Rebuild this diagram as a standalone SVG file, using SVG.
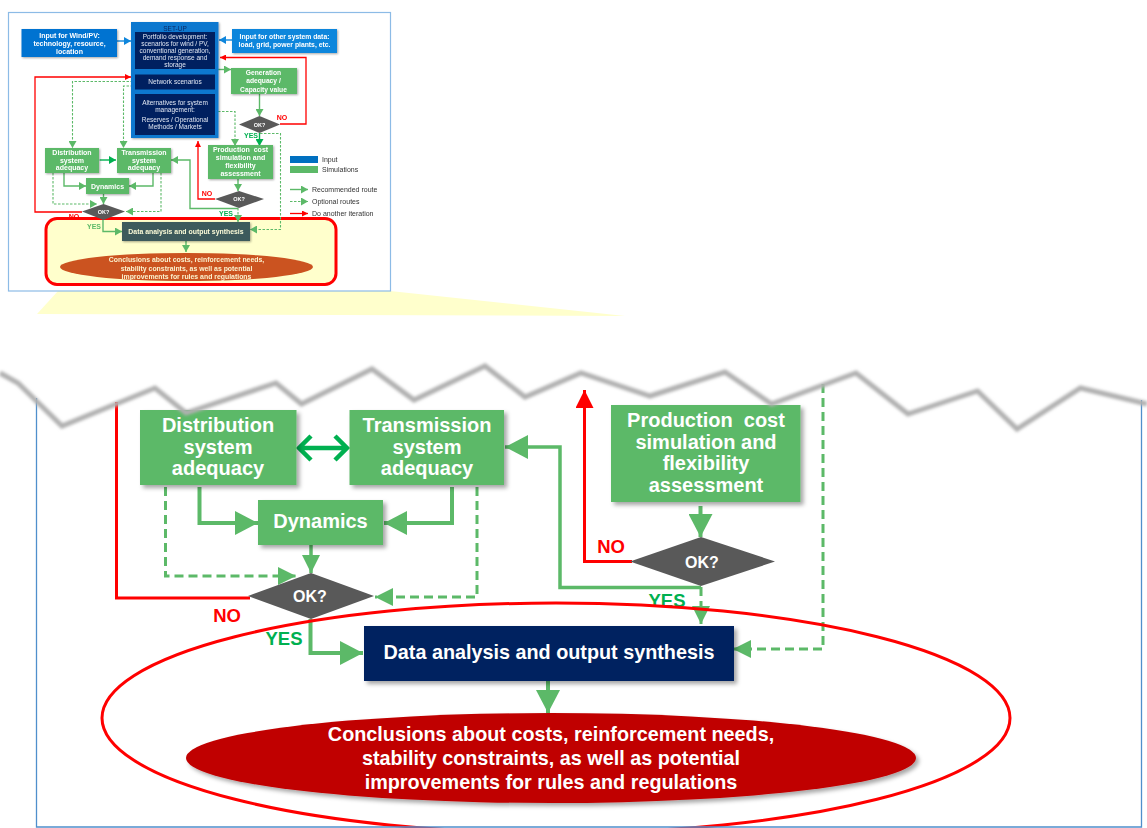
<svg xmlns="http://www.w3.org/2000/svg" width="1147" height="828" viewBox="0 0 1147 828">
<defs>
<filter id="shadow" x="-10%" y="-10%" width="125%" height="130%"><feDropShadow dx="3" dy="3" stdDeviation="2.2" flood-color="#000" flood-opacity="0.35"/></filter>
<filter id="tshadow" x="-10%" y="-10%" width="125%" height="130%"><feDropShadow dx="1" dy="1" stdDeviation="0.8" flood-color="#000" flood-opacity="0.35"/></filter>
<filter id="tearBlur" x="-2%" y="-30%" width="104%" height="160%"><feGaussianBlur stdDeviation="1.5"/></filter>
<marker id="gm" markerUnits="userSpaceOnUse" markerWidth="23" markerHeight="24" refX="23" refY="12" orient="auto"><path d="M0 0L23 12L0 24Z" fill="#5cb968"/></marker>
<marker id="gd" markerUnits="userSpaceOnUse" markerWidth="18" markerHeight="18" refX="18" refY="9" orient="auto"><path d="M0 0L18 9L0 18Z" fill="#5cb968"/></marker>
<marker id="rm" markerUnits="userSpaceOnUse" markerWidth="18" markerHeight="18" refX="18" refY="9" orient="auto"><path d="M0 0L18 9L0 18Z" fill="#ff0000"/></marker>
<marker id="gt" markerUnits="userSpaceOnUse" markerWidth="7" markerHeight="8" refX="7" refY="4" orient="auto"><path d="M0 0L7 4L0 8Z" fill="#5cb968"/></marker>
<marker id="dt" markerUnits="userSpaceOnUse" markerWidth="7" markerHeight="8" refX="7" refY="4" orient="auto"><path d="M0 0L7 4L0 8Z" fill="#00b050"/></marker>
<marker id="rt" markerUnits="userSpaceOnUse" markerWidth="6" markerHeight="6" refX="6" refY="3" orient="auto"><path d="M0 0L6 3L0 6Z" fill="#ff0000"/></marker>
<marker id="bt" markerUnits="userSpaceOnUse" markerWidth="7" markerHeight="8" refX="7" refY="4" orient="auto"><path d="M0 0L7 4L0 8Z" fill="#0f86dc"/></marker>
</defs>
<style>
text{font-family:"Liberation Sans",Arial,sans-serif;text-anchor:middle;white-space:pre}
#thumbnail{filter:blur(0.7px)}
.b{font-weight:700}
.w{fill:#fff}
.c{fill:none;stroke-linejoin:miter}
.gl{stroke:#5cb968;stroke-width:4}
.gdl{stroke:#5cb968;stroke-width:3;stroke-dasharray:9 5}
.rl{stroke:#ff0000;stroke-width:3}
.tg{stroke:#5cb968;stroke-width:1.4}
.tgd{stroke:#5cb968;stroke-width:1.1;stroke-dasharray:2.5 1.5}
.tr{stroke:#ff0000;stroke-width:1.3}
.green{fill:#5cb968}
.box{filter:url(#shadow)}
.tbox{filter:url(#tshadow)}
.mt{font-size:20px}
.tt{font-size:7px}
.st{font-size:6.5px;fill:#dfe6f2}
.lg{font-size:7px;fill:#333;text-anchor:start}
.lab{font-size:18.5px}
</style>

<polygon id="zoom-wedge" points="58,291 390,291 625,316 37,314" fill="#ffffcc"/>

<g id="thumbnail">
<rect id="t-frame" x="8.5" y="12.5" width="382" height="278.5" fill="#fff" stroke="#8cbbe6" stroke-width="1.2"/>
<g id="t-highlight"><rect x="46" y="218.5" width="290" height="66" rx="11" fill="#ffffcc" stroke="#ff0000" stroke-width="3"/></g>
<g id="t-connectors">
<path class="c" d="M117 41H131" stroke="#0f86dc" stroke-width="1.4" marker-end="url(#bt)"/>
<path class="c" d="M232 40H219" stroke="#0f86dc" stroke-width="1.4" marker-end="url(#bt)"/>
<path class="c tr" d="M82 212H35V77H131" marker-end="url(#rt)"/>
<path class="c tgd" d="M133 81.500H72.500V148" marker-end="url(#gt)"/>
<path class="c tgd" d="M133 86H123.500V148" marker-end="url(#gt)"/>
<path class="c tg" d="M218 69.500H231" marker-end="url(#gt)"/>
<path class="c tg" d="M259.500 94V116" marker-end="url(#gt)"/>
<path class="c tr" d="M280 124H306V57.500H220" marker-end="url(#rt)"/>
<path class="c tgd" d="M218 111.500H235V146" marker-end="url(#gt)"/>
<path class="c" d="M259.500 133V146" stroke="#00b050" stroke-width="1.4" marker-end="url(#dt)"/>
<path class="c tgd" d="M260 133.500H280.500V229.500H250" marker-end="url(#gt)"/>
<path class="c tr" d="M215 199H198V141" marker-end="url(#rt)"/>
<path class="c tg" d="M238 179V191" marker-end="url(#gt)"/>
<path class="c tg" d="M238 208.500H190V160H171" marker-end="url(#gt)"/>
<path class="c tgd" d="M238 208V222" marker-end="url(#gt)"/>
<path class="c" d="M100 160H116" stroke="#00b050" stroke-width="1.4" marker-start="url(#dt)" marker-end="url(#dt)"/>
<path class="c tg" d="M64 173V186H86" marker-end="url(#gt)"/>
<path class="c tg" d="M153 173V186H129" marker-end="url(#gt)"/>
<path class="c tg" d="M103.500 194V204" marker-end="url(#gt)"/>
<path class="c tgd" d="M53 173V204H97" marker-end="url(#gt)"/>
<path class="c tgd" d="M161 173V211.500H126" marker-end="url(#gt)"/>
<path class="c tg" d="M103 220V231.500H122" marker-end="url(#gt)"/>
<path class="c tg" d="M186 241V252" marker-end="url(#gt)"/>
</g>
<g id="t-wind"><rect class="tbox" x="21.500" y="29" width="95.500" height="28" fill="#0073d1"/><text class="tt b w"><tspan x="69.500" y="37.500">Input for Wind/PV:</tspan><tspan x="69.500" y="45.500">technology, resource,</tspan><tspan x="69.500" y="53.500">location</tspan></text></g>
<g id="t-other"><rect class="tbox" x="232" y="29" width="105" height="24" fill="#0f86dc"/><text font-size="6.800" class="b w"><tspan x="284.500" y="39">Input for other system data:</tspan><tspan x="284.500" y="47">load, grid, power plants, etc.</tspan></text></g>
<g id="t-setup"><rect class="tbox" x="131" y="22" width="87.500" height="116" fill="#0f78cf"/>
<rect x="135" y="32" width="80" height="37" fill="#002060"/><rect x="135" y="74.500" width="80" height="15" fill="#002060"/><rect x="135" y="94" width="80" height="41" fill="#002060"/>
<text x="175" y="30.500" font-size="6.500" fill="#0a2a66">SET-UP</text>
<text class="st"><tspan x="175" y="39">Portfolio development:</tspan><tspan x="175" y="46">scenarios for wind / PV,</tspan><tspan x="175" y="53">conventional generation,</tspan><tspan x="175" y="60">demand response and</tspan><tspan x="175" y="67">storage</tspan></text>
<text class="st" x="175" y="84">Network scenarios</text>
<text class="st"><tspan x="175" y="105">Alternatives for system</tspan><tspan x="175" y="112">management:</tspan><tspan x="175" y="121.500">Reserves / Operational</tspan><tspan x="175" y="128.500">Methods / Markets</tspan></text></g>
<g id="t-gen"><rect class="tbox green" x="231" y="68" width="66" height="26"/><text font-size="6.700" class="b w"><tspan x="263.500" y="75">Generation</tspan><tspan x="263.500" y="83">adequacy /</tspan><tspan x="263.500" y="91.500">Capacity value</tspan></text></g>
<g id="t-ok1"><polygon points="239,124.500 259.500,116 280,124.500 259.500,133" fill="#595959"/><text x="259.500" y="126.500" font-size="5.500" class="b w">OK?</text></g>
<g id="t-prod"><rect class="tbox green" x="208" y="145" width="65" height="34"/><text class="tt b w"><tspan x="240.500" y="152">Production  cost</tspan><tspan x="240.500" y="160">simulation and</tspan><tspan x="240.500" y="168">flexibility</tspan><tspan x="240.500" y="175.500">assessment</tspan></text></g>
<g id="t-ok2"><polygon points="215,199 239,191 264,199 239,208" fill="#595959"/><text x="239" y="201" font-size="5.500" class="b w">OK?</text></g>
<g id="t-dist"><rect class="tbox green" x="45" y="148" width="54" height="25"/><text class="tt b w"><tspan x="72" y="154.500">Distribution</tspan><tspan x="72" y="162.500">system</tspan><tspan x="72" y="169.500">adequacy</tspan></text></g>
<g id="t-trans"><rect class="tbox green" x="117" y="148" width="54" height="25"/><text class="tt b w"><tspan x="144" y="154.500">Transmission</tspan><tspan x="144" y="162.500">system</tspan><tspan x="144" y="169.500">adequacy</tspan></text></g>
<g id="t-dyn"><rect class="tbox green" x="86" y="178" width="43" height="16"/><text class="tt b w" x="107.500" y="188.500">Dynamics</text></g>
<g id="t-ok3"><polygon points="82,211.500 103.500,204 125,211.500 103.500,220" fill="#595959"/><text x="103.500" y="213.500" font-size="5.500" class="b w">OK?</text></g>
<g id="t-data"><rect class="tbox" x="122" y="222" width="128" height="19" fill="#3e5a5c"/><text x="186" y="234" font-size="6.900" class="b" fill="#fbfbd8">Data analysis and output synthesis</text></g>
<g id="t-concl"><ellipse cx="186.500" cy="267" rx="126.500" ry="14" fill="#cb5320"/><text font-size="6.900" class="b" fill="#fbf3d0"><tspan x="186.500" y="262">Conclusions about costs, reinforcement needs,</tspan><tspan x="186.500" y="270.500">stability constraints, as well as potential</tspan><tspan x="186.500" y="278.500">improvements for rules and regulations</tspan></text></g>
<text class="b" font-size="7" fill="#ff0000" x="282" y="120">NO</text>
<text class="b" font-size="7" fill="#00b050" x="251" y="138">YES</text>
<text class="b" font-size="7" fill="#ff0000" x="207" y="196">NO</text>
<text class="b" font-size="7" fill="#00b050" x="226" y="216">YES</text>
<text class="b" font-size="7" fill="#ff0000" x="74" y="219">NO</text>
<text class="b" font-size="7" fill="#5cb968" x="94" y="229">YES</text>
<g id="t-legend">
<rect x="290" y="156" width="28" height="7" fill="#0070c0"/><rect x="290" y="166" width="28" height="7" fill="#5cb968"/>
<text class="lg" x="322" y="161.500">Input</text><text class="lg" x="322" y="172">Simulations</text>
<path class="c tg" d="M290 189.500H308" marker-end="url(#gt)"/>
<path class="c tgd" d="M290 201.500H308" stroke-dasharray="5 3" marker-end="url(#gt)"/>
<path class="c tr" d="M290 213.500H308" marker-end="url(#rt)"/>
<text class="lg" x="312" y="192">Recommended route</text><text class="lg" x="312" y="204">Optional routes</text><text class="lg" x="312" y="216">Do another iteration</text>
</g>
</g>

<g id="connectors">
<path class="c rl" d="M250 598H116.500V402"/>
<path class="c rl" d="M632 561.500H584.500V390" marker-end="url(#rm)"/>
<path class="c" d="M300 448H346M311 436L299 448L311 460M335 436L347 448L335 460" stroke="#00b050" stroke-width="4.500"/>
<path class="c gl" d="M199.500 487V523H258" marker-end="url(#gm)"/>
<path class="c gl" d="M452 487V523H384" marker-end="url(#gm)"/>
<path class="c" d="M311 545V573" stroke="#5cb968" stroke-width="3.500" marker-end="url(#gd)"/>
<path class="c gdl" d="M165.500 487V576H296" marker-end="url(#gd)"/>
<path class="c gdl" d="M477 487V597H375" marker-end="url(#gd)"/>
<path class="c" d="M701 587.500H560V447H505" stroke="#5cb968" stroke-width="3.500" marker-end="url(#gm)"/>
<path class="c gdl" d="M701 587V624" marker-end="url(#gd)"/>
<path class="c gl" d="M700.500 506V537" marker-end="url(#gm)"/>
<path class="c gl" d="M310.500 619V653H363" marker-end="url(#gm)"/>
<path class="c gdl" d="M823 384V649H733" marker-end="url(#gd)"/>
<path class="c gl" d="M548 681V713" marker-end="url(#gm)"/>
</g>

<g id="distribution"><rect class="box green" x="140" y="410" width="156.500" height="75"/><text class="mt b w"><tspan x="218" y="432">Distribution</tspan><tspan x="218" y="453.500">system</tspan><tspan x="218" y="475">adequacy</tspan></text></g>
<g id="transmission"><rect class="box green" x="349.500" y="410" width="154.500" height="75"/><text class="mt b w"><tspan x="427" y="432">Transmission</tspan><tspan x="427" y="453.500">system</tspan><tspan x="427" y="475">adequacy</tspan></text></g>
<g id="dynamics"><rect class="box green" x="258" y="500" width="125" height="45"/><text class="mt b w" x="320.500" y="528">Dynamics</text></g>
<g id="ok-a"><polygon points="248,596 311,573 374,596 311,619" fill="#595959"/><text x="310" y="602" font-size="16" class="b w">OK?</text></g>
<g id="production"><rect class="box green" x="611" y="405" width="189.500" height="97"/><text class="mt b w"><tspan x="706" y="427">Production  cost</tspan><tspan x="706" y="448.500">simulation and</tspan><tspan x="706" y="470">flexibility</tspan><tspan x="706" y="491.500">assessment</tspan></text></g>
<g id="ok-b"><polygon points="630,561.500 701,537 775,561.500 701,586" fill="#595959"/><text x="702" y="568" font-size="16" class="b w">OK?</text></g>
<g id="data"><rect class="box" x="364" y="626" width="370" height="55" fill="#002060"/><text x="549" y="659" font-size="19.800" class="b w">Data analysis and output synthesis</text></g>
<g id="conclusions"><ellipse class="box" cx="551" cy="758" rx="365" ry="45" fill="#c00000"/><text font-size="19.800" class="b w"><tspan x="551" y="741">Conclusions about costs, reinforcement needs,</tspan><tspan x="551" y="765">stability constraints, as well as potential</tspan><tspan x="551" y="789">improvements for rules and regulations</tspan></text></g>

<text class="lab b" fill="#ff0000" x="227" y="622">NO</text>
<text class="lab b" fill="#00b050" x="284" y="645">YES</text>
<text class="lab b" fill="#ff0000" x="611" y="553">NO</text>
<text class="lab b" fill="#00b050" x="667" y="607">YES</text>

<ellipse id="highlight" cx="556" cy="718" rx="454" ry="115" fill="none" stroke="#ff0000" stroke-width="3"/>
<path id="main-frame" d="M36.500 398V827H1141.500V400" fill="none" stroke="#4f8fcc" stroke-width="1.300"/>

<polyline id="tear" points="0,373 18,383 62,426 155,388 186,413 276,383 301.500,404 372,369 414,400 485,366 525,397 581,373 650,396 725,372 771.500,404 856,373 908,414 977.500,391 1017,429 1080.500,388 1147,404" fill="none" stroke="#b0b0b0" stroke-width="5" filter="url(#tearBlur)"/>
</svg>
